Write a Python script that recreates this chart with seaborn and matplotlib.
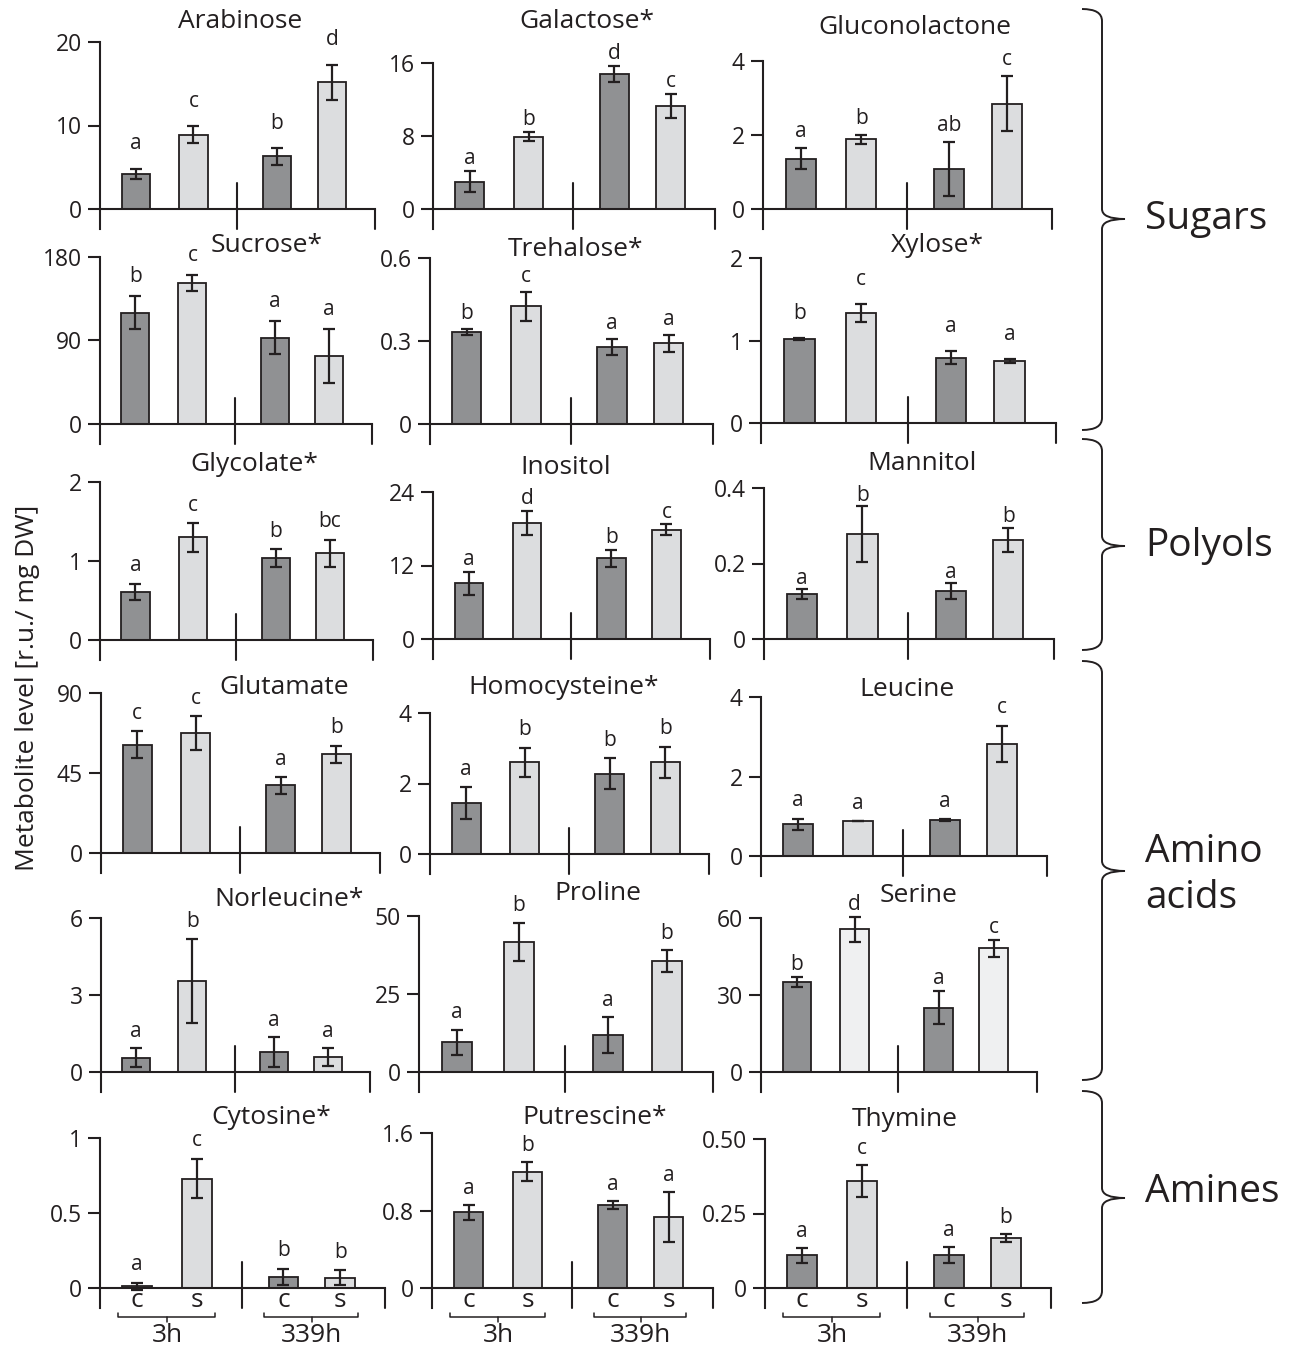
import matplotlib.pyplot as plt
import numpy as np
import pandas as pd
import seaborn as sns
from matplotlib.path import Path
from matplotlib.patches import PathPatch

# ---- data ----
titles = ["Arabinose", "Galactose*", "Gluconolactone",
          "Sucrose*", "Trehalose*", "Xylose*",
          "Glycolate*", "Inositol", "Mannitol",
          "Glutamate", "Homocysteine*", "Leucine",
          "Norleucine*", "Proline", "Serine",
          "Cytosine*", "Putrescine*", "Thymine"]

means = [[4.2, 8.9, 6.3, 15.2], [3.0, 7.9, 14.8, 11.3], [1.36, 1.88, 1.08, 2.85],
         [120, 152, 93, 73], [0.332, 0.426, 0.278, 0.292], [1.02, 1.33, 0.79, 0.75],
         [0.61, 1.30, 1.04, 1.10], [9.1, 18.9, 13.2, 17.8], [0.119, 0.278, 0.127, 0.262],
         [61, 67.5, 38, 55.6], [1.45, 2.6, 2.27, 2.6], [0.80, 0.88, 0.90, 2.82],
         [0.55, 3.55, 0.78, 0.58], [9.6, 41.7, 11.9, 35.6], [35, 55.6, 25, 48.2],
         [0.012, 0.73, 0.075, 0.07], [0.78, 1.2, 0.86, 0.73], [0.11, 0.36, 0.11, 0.168]]

errs = [[0.65, 1.0, 1.0, 2.1], [1.15, 0.5, 0.9, 1.3], [0.28, 0.12, 0.72, 0.75],
        [18, 9, 18, 29], [0.012, 0.052, 0.03, 0.03], [0.01, 0.11, 0.08, 0.02],
        [0.10, 0.18, 0.11, 0.17], [1.9, 2.0, 1.4, 0.9], [0.013, 0.074, 0.021, 0.032],
        [7.6, 9.3, 4.7, 4.7], [0.45, 0.42, 0.44, 0.44], [0.14, 0.0, 0.03, 0.46],
        [0.37, 1.65, 0.58, 0.36], [4.0, 6.2, 5.7, 3.4], [2.0, 4.9, 6.4, 3.3],
        [0.022, 0.13, 0.055, 0.05], [0.08, 0.1, 0.04, 0.26], [0.025, 0.054, 0.027, 0.012]]

letters = [["a", "c", "b", "d"], ["a", "b", "d", "c"], ["a", "b", "ab", "c"],
           ["b", "c", "a", "a"], ["b", "c", "a", "a"], ["b", "c", "a", "a"],
           ["a", "c", "b", "bc"], ["a", "d", "b", "c"], ["a", "b", "a", "b"],
           ["c", "c", "a", "b"], ["a", "b", "b", "b"], ["a", "a", "a", "c"],
           ["a", "b", "a", "a"], ["a", "b", "a", "b"], ["b", "d", "a", "c"],
           ["a", "c", "b", "b"], ["a", "b", "a", "a"], ["a", "c", "a", "b"]]

ytick_vals = [[0, 10, 20], [0, 8, 16], [0, 2, 4],
              [0, 90, 180], [0, 0.3, 0.6], [0, 1, 2],
              [0, 1, 2], [0, 12, 24], [0, 0.2, 0.4],
              [0, 45, 90], [0, 2, 4], [0, 2, 4],
              [0, 3, 6], [0, 25, 50], [0, 30, 60],
              [0, 0.5, 1], [0, 0.8, 1.6], [0, 0.25, 0.5]]
ytick_labels = [["0", "10", "20"], ["0", "8", "16"], ["0", "2", "4"],
                ["0", "90", "180"], ["0", "0.3", "0.6"], ["0", "1", "2"],
                ["0", "1", "2"], ["0", "12", "24"], ["0", "0.2", "0.4"],
                ["0", "45", "90"], ["0", "2", "4"], ["0", "2", "4"],
                ["0", "3", "6"], ["0", "25", "50"], ["0", "30", "60"],
                ["0", "0.5", "1"], ["0", "0.8", "1.6"], ["0", "0.25", "0.50"]]

conditions = ["c", "s", "c", "s"]
timepoints = ["3h", "339h"]
groups = ["Sugars", "Polyols", "Amino\nacids", "Amines"]

# ---- layout (pixels in the 1298x1348 figure) ----
W, H = 1298, 1348
spine_px = [100, 433, 763, 100, 430, 761, 100, 433, 764,
            101, 430, 761, 101, 419, 761, 100, 432, 765]
right_px = [375, 715, 1052, 372, 713, 1056, 373, 710, 1054,
            380, 709, 1047, 370, 713, 1037, 385, 713, 1051]
zero_px = [209, 209, 209, 424, 424, 423, 640, 639, 639,
           853, 854, 856, 1072, 1072, 1072, 1288, 1288, 1288]
top_px = [42, 63, 61, 257, 258, 258, 482, 492, 488,
          693, 713, 697, 918, 916, 918, 1138, 1133, 1139]
title_xy = [(240, 22), (587, 22), (915, 27), (267, 246), (576, 249), (937, 246),
            (254, 465), (566, 467), (922, 463), (284, 687), (564, 688), (907, 690),
            (289, 900), (598, 893), (919, 895), (271, 1118), (595, 1117), (905, 1120)]
# gap (points) between the top of the error bar and the letter baseline
letter_gap = [14, 5, 8, 10, 7, 14, 9, 5, 4, 9, 9, 9, 8, 8, 5, 9, 8, 8]
braces = [(9, 430, 219), (439, 650, 546), (661, 1080, 871), (1091, 1303, 1198)]
group_y = [219, 546, 875, 1192]

bar_pos = [0, 1, 2.45, 3.4]
sep_x = 1.75
xlim = (-0.62, 4.15)
dark = "#8f9194"
light = "#dcdddf"
edge = "#231f20"

sns.set_theme(style="ticks")
plt.rcParams["font.family"] = ["Open Sans", "DejaVu Sans"]
plt.rcParams["axes.linewidth"] = 1.5

fig = plt.figure(figsize=(W / 100, H / 100), dpi=100)


def draw_panel(i):
    x0, x1 = spine_px[i], right_px[i]
    z, t = zero_px[i], top_px[i]
    ymax = ytick_vals[i][-1]
    ax = fig.add_axes([x0 / W, 1 - (z + 20) / H, (x1 - x0) / W, (z + 20 - t) / H])
    s = ymax / (z - t)  # data units per pixel

    light_col = "#eff0f1" if titles[i] == "Serine" else light
    df = pd.DataFrame({"pos": bar_pos, "value": means[i], "cond": conditions})
    sns.barplot(data=df, x="pos", y="value", hue="cond",
                palette={"c": dark, "s": light_col}, native_scale=True,
                dodge=False, width=0.52, edgecolor=edge, linewidth=1.3,
                errorbar=None, legend=False, ax=ax)
    ax.errorbar(bar_pos, means[i], yerr=errs[i], fmt="none", ecolor=edge,
                elinewidth=1.6, capsize=4.5, capthick=1.6, clip_on=False)
    for j in range(4):
        ax.annotate(letters[i][j], (bar_pos[j], means[i][j] + errs[i][j]),
                    xytext=(0, letter_gap[i]), textcoords="offset points",
                    ha="center", va="baseline", fontsize=15, color=edge,
                    annotation_clip=False)

    ax.set_xlim(*xlim)
    ax.set_ylim(-20 * s, ymax)
    for side in ["top", "right"]:
        ax.spines[side].set_visible(False)
    ax.spines["bottom"].set_position(("data", 0))
    ax.spines["left"].set_color(edge)
    ax.spines["bottom"].set_color(edge)
    ax.set_yticks(ytick_vals[i], ytick_labels[i])
    ax.tick_params(axis="y", length=9, width=1.5, direction="out",
                   labelsize=16.5, pad=4, colors=edge)
    ax.set_xlabel("")
    ax.set_ylabel("")

    ax.set_xticks(bar_pos)
    if i >= 15:
        ax.set_xticklabels(conditions)
    else:
        ax.set_xticklabels([])
    ax.tick_params(axis="x", length=0, pad=0, labelsize=19, colors=edge)

    # group separator and right end tick
    ax.plot([sep_x, sep_x], [-20 * s, 26 * s], color=edge, lw=1.5, clip_on=False)
    ax.plot([xlim[1], xlim[1]], [-20 * s, 0], color=edge, lw=1.5, clip_on=False)

    if i >= 15:
        for k, (a, b) in enumerate([(0, 1), (2, 3)]):
            xa, xb = bar_pos[a] - 0.32, bar_pos[b] + 0.3
            xm = (bar_pos[a] + bar_pos[b]) / 2
            ax.plot([xa, xa, xb, xb], [-25 * s, -29 * s, -29 * s, -25 * s],
                    color=edge, lw=1.1, clip_on=False)
            ax.plot([xm, xm], [-29 * s, -34 * s], color=edge, lw=1.1, clip_on=False)
            ax.text(xm, -47 * s, timepoints[k], ha="center", va="center",
                    fontsize=19, color=edge)

    tx, ty = title_xy[i]
    fig.text(tx / W, 1 - ty / H, titles[i], ha="center", va="center",
             fontsize=19, color=edge)


for i in range(len(titles)):
    draw_panel(i)


def draw_brace(top, bottom, mid):
    xl, xv, xm = 1082, 1102, 1125

    def p(x, y):
        return (x / W, 1 - y / H)

    verts = [p(xl, top), p(xv, top), p(xv, top + 12),
             p(xv, mid - 10), p(xv, mid), p(xm, mid),
             p(xv, mid), p(xv, mid + 10),
             p(xv, bottom - 12), p(xv, bottom), p(xl, bottom)]
    codes = [Path.MOVETO, Path.CURVE3, Path.CURVE3,
             Path.LINETO, Path.CURVE3, Path.CURVE3,
             Path.CURVE3, Path.CURVE3,
             Path.LINETO, Path.CURVE3, Path.CURVE3]
    fig.patches.append(PathPatch(Path(verts, codes), transform=fig.transFigure,
                                 fill=False, lw=1.4, edgecolor=edge))


for (top, bottom, mid), label, gy in zip(braces, groups, group_y):
    draw_brace(top, bottom, mid)
    fig.text(1145 / W, 1 - gy / H, label, ha="left", va="center",
             fontsize=28, linespacing=1.3, color=edge)

fig.text(28 / W, 1 - 688 / H, "Metabolite level [r.u./ mg DW]", rotation=90,
         ha="center", va="center", fontsize=19, color=edge)

fig.savefig("out.png", dpi=100)
